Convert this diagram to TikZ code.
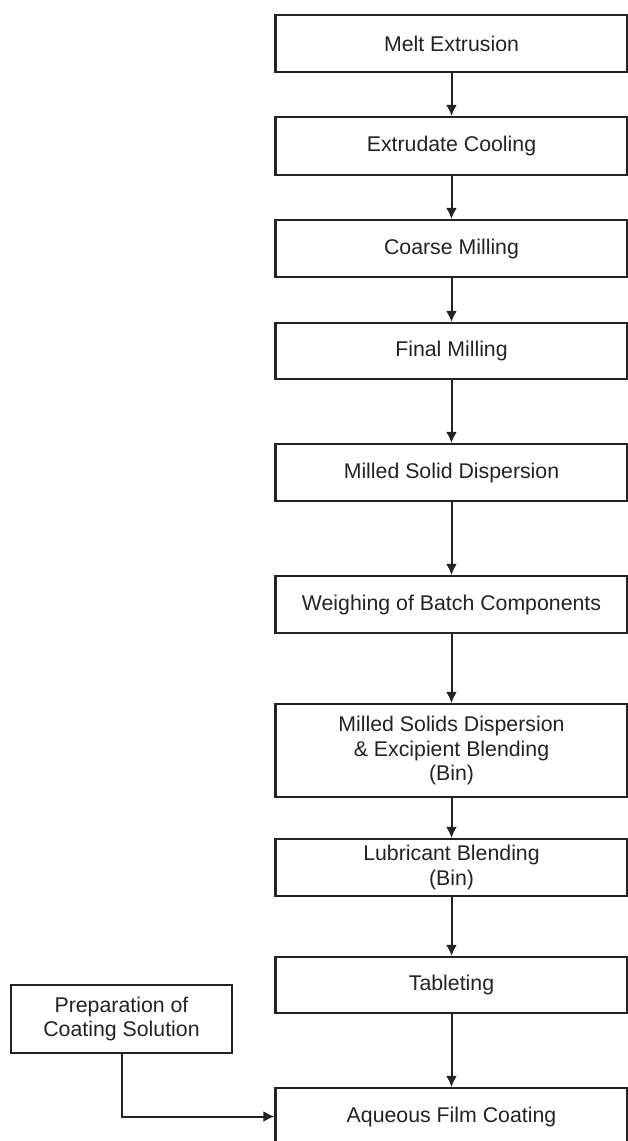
\documentclass[tikz,border=0pt]{standalone}
\usepackage{fontspec}
\setmainfont{Liberation Sans}
\usetikzlibrary{arrows.meta}
\definecolor{ink}{RGB}{35,35,35}
\begin{document}
\begin{tikzpicture}[x=1pt,y=-1pt,
  box/.style={draw=ink, line width=2.2pt, rectangle, minimum width=352pt, inner sep=0pt,
    align=center, text=ink, font=\fontsize{21.3}{24.5}\selectfont},
  flow/.style={draw=ink, line width=2pt, -{Latex[length=11pt,width=11pt]}}]
\useasboundingbox (0,0) rectangle (628,1141);
\fill[white] (0,0) rectangle (628,1141);
\node[box, minimum height=57pt] (melt) at (451.5,43.5) {Melt Extrusion};
\node[box, minimum height=58pt] (cool) at (451.5,146) {Extrudate Cooling};
\node[box, minimum height=57pt] (coarse) at (451.5,248.5) {Coarse Milling};
\node[box, minimum height=56pt] (final) at (451.5,351) {Final Milling};
\node[box, minimum height=57pt] (msd) at (451.5,472.5) {Milled Solid Dispersion};
\node[box, minimum height=57pt] (weigh) at (451.5,604.5) {Weighing of Batch Components};
\node[box, minimum height=93pt] (blend) at (451.5,750.5) {Milled Solids Dispersion\\ \& Excipient Blending\\ (Bin)};
\node[box, minimum height=57pt] (lub) at (451.5,867.5) {Lubricant Blending\\ (Bin)};
\node[box, minimum height=56pt] (tab) at (451.5,985) {Tableting};
\node[box, minimum height=57pt] (aq) at (451.5,1116.5) {Aqueous Film Coating};
\node[box, minimum width=221pt, minimum height=68pt] (prep) at (121.5,1019) {Preparation of\\ Coating Solution};
\draw[flow] (melt) -- (cool);
\draw[flow] (cool) -- (coarse);
\draw[flow] (coarse) -- (final);
\draw[flow] (final) -- (msd);
\draw[flow] (msd) -- (weigh);
\draw[flow] (weigh) -- (blend);
\draw[flow] (blend) -- (lub);
\draw[flow] (lub) -- (tab);
\draw[flow] (tab) -- (aq);
\draw[flow] (prep.south) |- (aq.west);
\end{tikzpicture}
\end{document}
